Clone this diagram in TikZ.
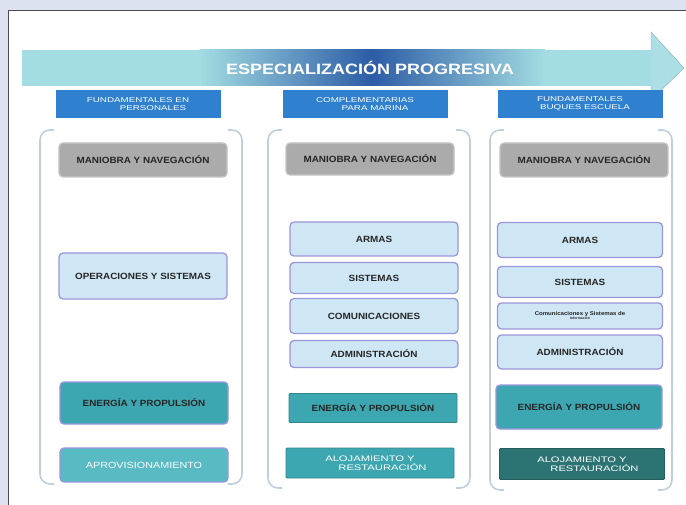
\documentclass[tikz,border=0pt]{standalone}
\usepackage{fontspec}
\setmainfont{Liberation Sans}
\usepackage{graphicx}
\usetikzlibrary{shadings}
\definecolor{bgout}{HTML}{DCE2EF}
\definecolor{arrcyan}{HTML}{A3DCE2}
\definecolor{arrblue}{HTML}{2C5CA6}
\definecolor{hdrblue}{HTML}{2F80CF}
\definecolor{grayb}{HTML}{ABABAB}
\definecolor{lblue}{HTML}{CFE7F5}
\definecolor{purp}{HTML}{9C96DA}
\definecolor{teal}{HTML}{3CA7B0}
\definecolor{tealL}{HTML}{58BAC2}
\definecolor{tealD}{HTML}{2C7474}
\definecolor{brk}{HTML}{BFD0DC}
\newcommand\sttxt[1]{\scalebox{1.1}[1]{#1}}
\newcommand\hdtxt[1]{\scalebox{1.4}[1]{#1}}
\tikzset{
  bx/.style={rounded corners=4pt, minimum width=168pt, inner sep=0pt, align=center,
    font=\fontsize{9}{10}\bfseries, text=black!85},
  graybox/.style={bx, fill=grayb, draw=grayb!70!white, line width=1.2pt, minimum height=34pt},
  bluebox/.style={bx, fill=lblue, draw=purp, line width=1.3pt},
  tealbox/.style={bx, fill=teal, draw=purp, line width=1.3pt},
  hdr/.style={fill=hdrblue, minimum width=165pt, minimum height=28pt, inner sep=0pt,
    align=center, text=white, font=\fontsize{7}{8}\selectfont},
  brack/.style={draw=brk, line width=1.6pt, rounded corners=10pt}
}
\begin{document}
\begin{tikzpicture}[x=1pt,y=-1pt]
\useasboundingbox (0,0) rectangle (686,505);
\fill[bgout] (0,0) rectangle (686,505);
\fill[white, draw=black!70, line width=0.8pt] (8,10) rectangle (690,510);
% arrow
\fill[arrcyan] (22,50) rectangle (200,86);
\shade[left color=arrcyan, right color=arrblue] (199.5,50) rectangle (372,86);
\shade[left color=arrblue, right color=arrcyan] (371.5,50) rectangle (545,86);
\fill[arrcyan] (544.5,50) rectangle (652,86);
\fill[arrcyan!90!white, draw=arrcyan!80!black, line width=0.4pt] (651,86) -- (651,100) -- (684,68) -- (651,32) -- (651,50);
\node[text=white, font=\fontsize{15}{17}\bfseries] (title) at (370,68) {\scalebox{1.2}[1]{ESPECIALIZACIÓN PROGRESIVA}};
% headers
\node[hdr] (h1) at (138,104) {\hdtxt{FUNDAMENTALES EN}\\\hspace*{30pt}\hdtxt{PERSONALES}};
\node[hdr] (h2) at (365,104) {\hdtxt{COMPLEMENTARIAS}\\\hspace*{20pt}\hdtxt{PARA MARINA}};
\node[hdr] (h3) at (580,104) {\hdtxt{FUNDAMENTALES}\\\hspace*{10pt}\hdtxt{BUQUES ESCUELA}};
% brackets
\draw[brack] (54,130) -- (40,130) -- (40,484) -- (54,484);
\draw[brack] (228,130) -- (242,130) -- (242,484) -- (228,484);
\draw[brack] (282,130) -- (268,130) -- (268,488) -- (282,488);
\draw[brack] (456,130) -- (470,130) -- (470,488) -- (456,488);
\draw[brack] (504,130) -- (490,130) -- (490,490) -- (504,490);
\draw[brack] (658,130) -- (672,130) -- (672,490) -- (658,490);
% left column
\node[graybox] (l1) at (143,160) {\sttxt{MANIOBRA Y NAVEGACIÓN}};
\node[bluebox, minimum height=46pt] (l2) at (143,276) {\sttxt{OPERACIONES Y SISTEMAS}};
\node[tealbox, minimum height=42pt] (l3) at (144,403) {\sttxt{ENERGÍA Y PROPULSIÓN}};
\node[tealbox, fill=tealL, minimum height=34pt, text=white, font=\fontsize{9}{10}\selectfont] (l4) at (144,465) {\scalebox{1.2}[1]{APROVISIONAMIENTO}};
% middle column
\node[graybox, minimum height=32pt] (m1) at (370,159) {\sttxt{MANIOBRA Y NAVEGACIÓN}};
\node[bluebox, minimum height=34pt] (m2) at (374,239) {\sttxt{ARMAS}};
\node[bluebox, minimum height=31pt] (m3) at (374,278) {\sttxt{SISTEMAS}};
\node[bluebox, minimum height=35pt] (m4) at (374,316) {\sttxt{COMUNICACIONES}};
\node[bluebox, minimum height=27pt] (m5) at (374,354) {\sttxt{ADMINISTRACIÓN}};
\node[tealbox, draw=teal!80!black, line width=0.8pt, rounded corners=1pt, minimum height=29pt] (m6) at (373,408) {\sttxt{ENERGÍA Y PROPULSIÓN}};
\node[tealbox, draw=teal!80!black, line width=0.8pt, rounded corners=1pt, minimum height=30pt, text=white, font=\fontsize{8}{9}\selectfont] (m7) at (370,463) {\hdtxt{ALOJAMIENTO Y}\\\hspace*{25pt}\hdtxt{RESTAURACIÓN}};
% right column
\node[graybox] (r1) at (584,160) {\sttxt{MANIOBRA Y NAVEGACIÓN}};
\node[bluebox, minimum width=165pt, minimum height=35pt] (r2) at (580,240) {\sttxt{ARMAS}};
\node[bluebox, minimum width=165pt, minimum height=31pt] (r3) at (580,282) {\sttxt{SISTEMAS}};
\node[bluebox, minimum width=165pt, minimum height=26pt, font=\fontsize{5.5}{5}\bfseries] (r4) at (580,316) {\scalebox{1.1}[1]{Comunicaciones y Sistemas de}\\[-1pt]{\fontsize{3.5}{4}\selectfont Información}};
\node[bluebox, minimum width=165pt, minimum height=34pt] (r5) at (580,352) {\sttxt{ADMINISTRACIÓN}};
\node[tealbox, minimum width=166pt, minimum height=44pt] (r6) at (579,407) {\sttxt{ENERGÍA Y PROPULSIÓN}};
\node[tealbox, fill=tealD, draw=tealD!80!black, line width=0.8pt, rounded corners=1pt, minimum width=165pt, minimum height=31pt, text=white, font=\fontsize{8}{9}\selectfont] (r7) at (582,464) {\hdtxt{ALOJAMIENTO Y}\\\hspace*{25pt}\hdtxt{RESTAURACIÓN}};
\end{tikzpicture}
\end{document}
